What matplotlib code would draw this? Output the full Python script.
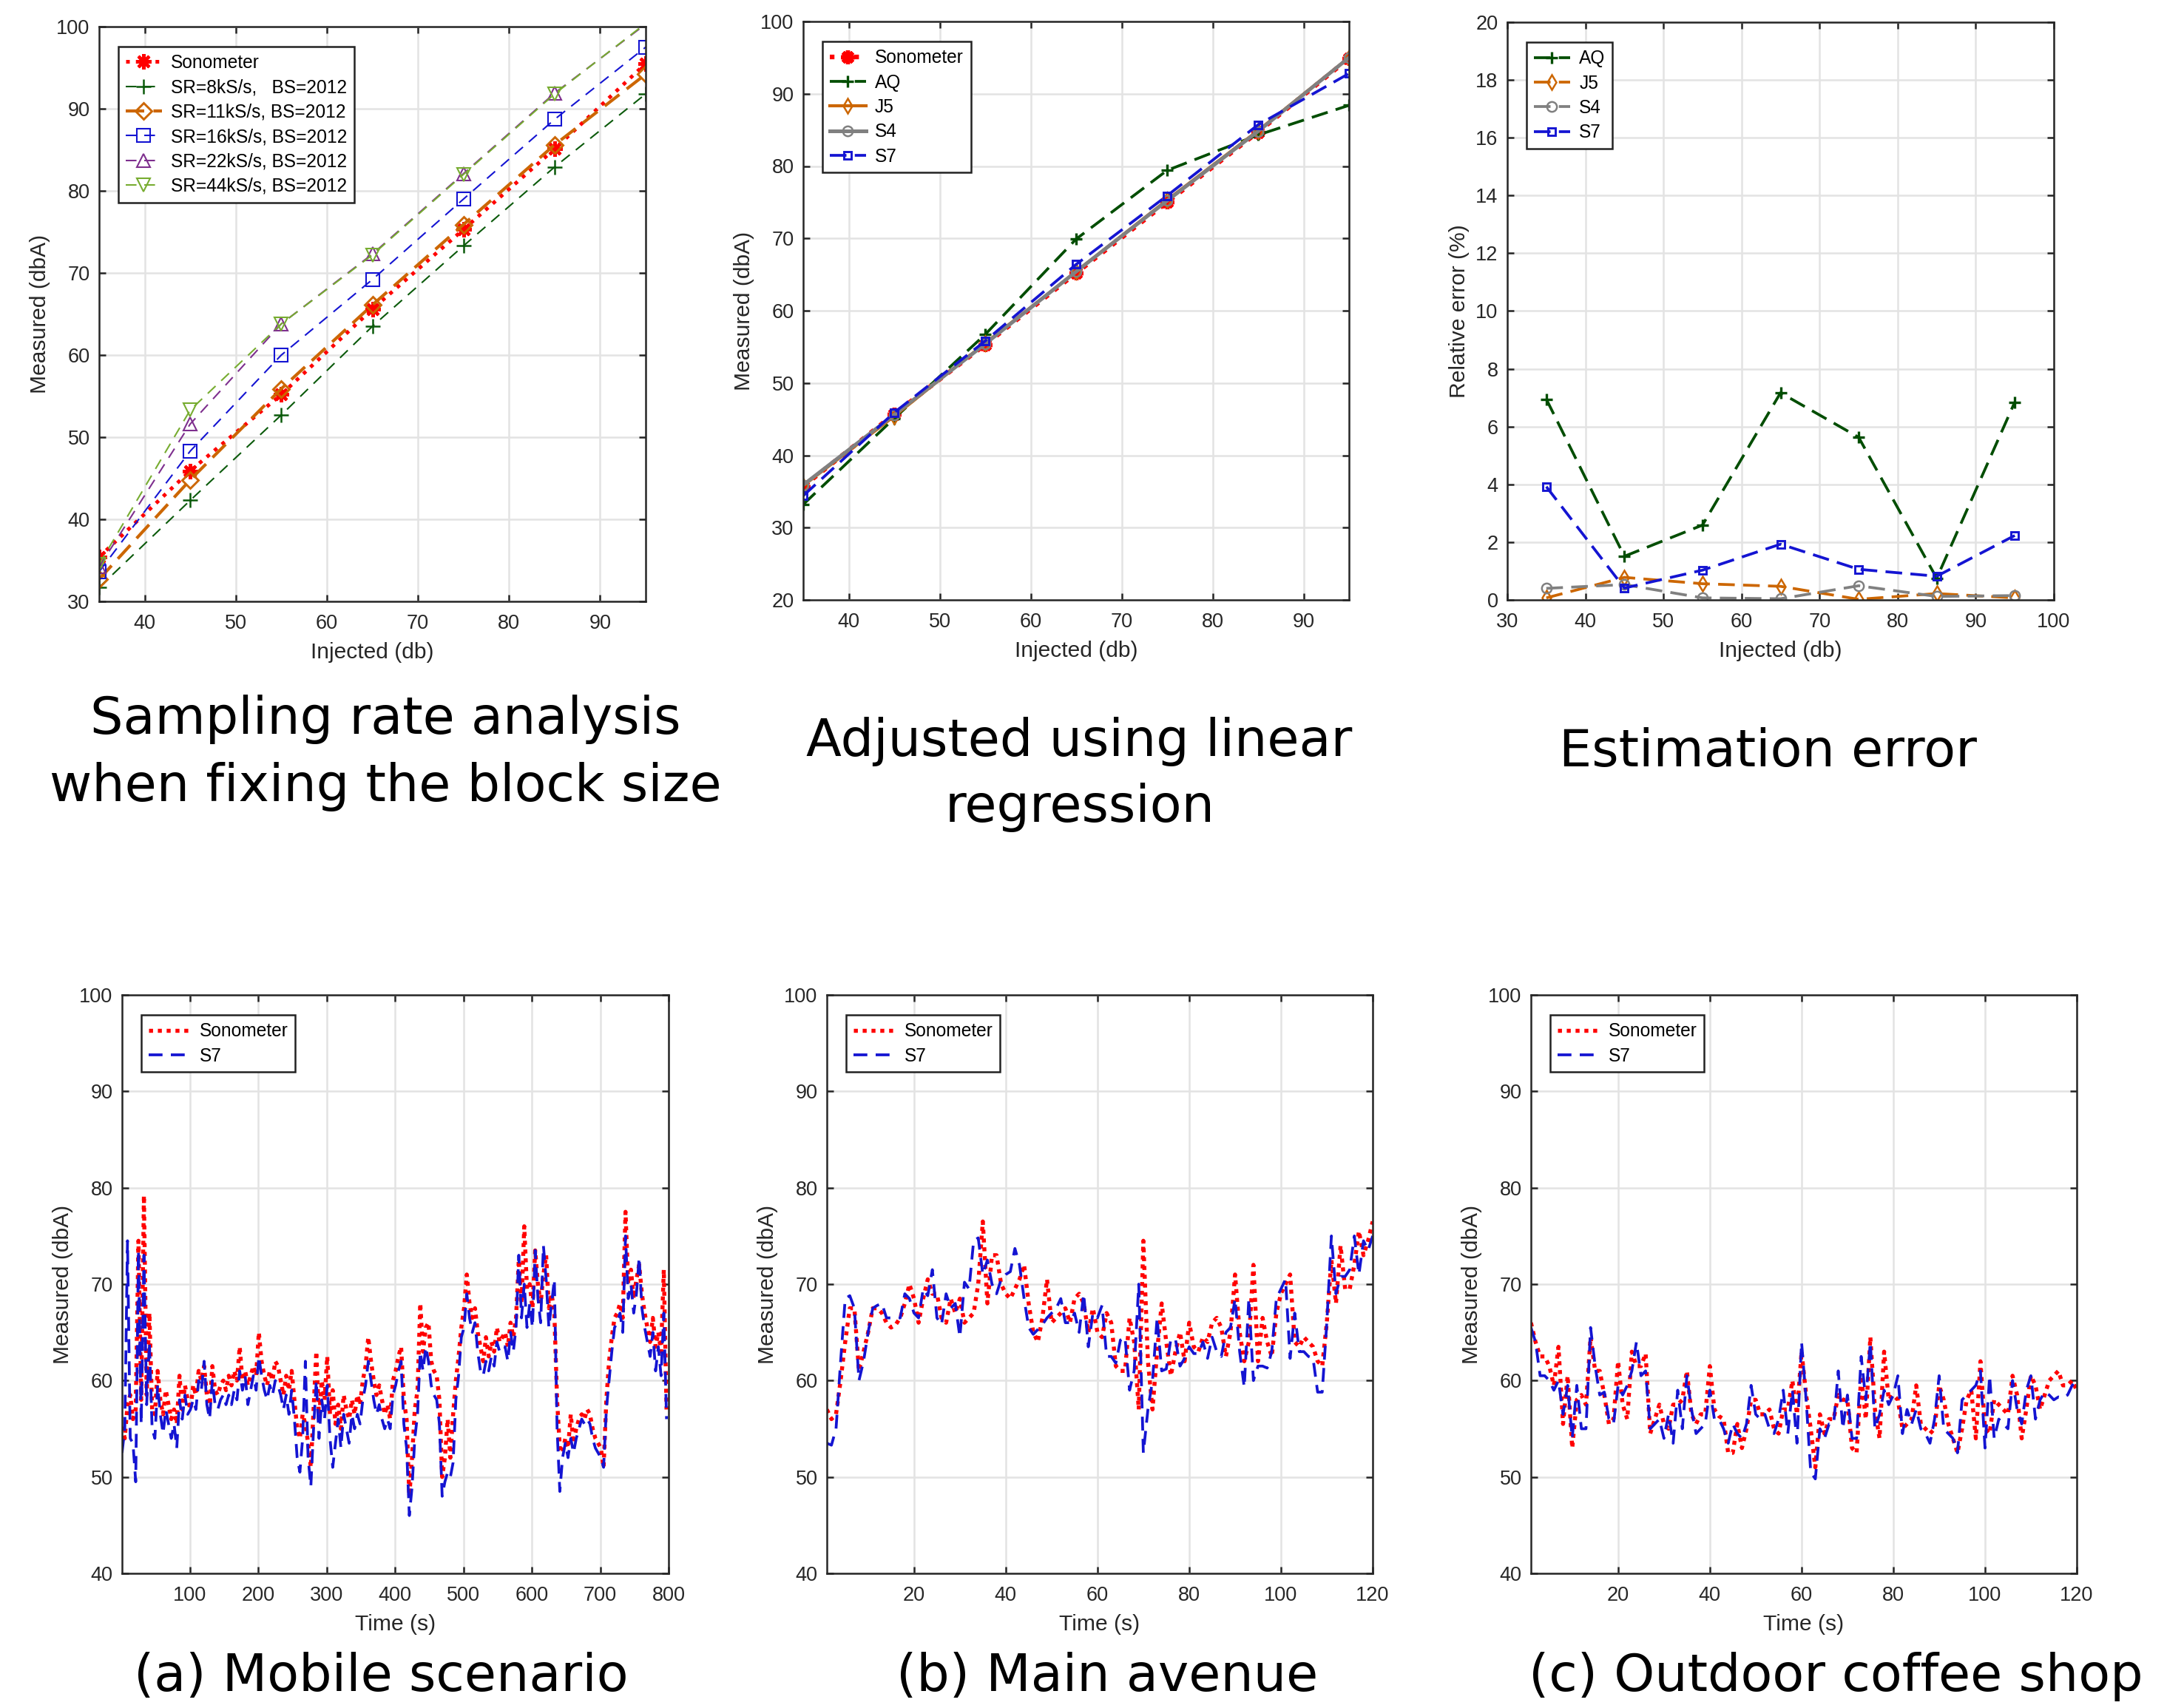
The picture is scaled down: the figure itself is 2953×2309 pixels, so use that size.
import numpy as np
import matplotlib
matplotlib.use("Agg")
import matplotlib.pyplot as plt

plt.rcParams["font.family"] = ["Liberation Sans", "DejaVu Sans"]

W, H = 2953, 2309

# ---- data -------------------------------------------------------------
injected = [35, 45, 55, 65, 75, 85, 95]

# sampling rate analysis (block size 2012)
sr_sonometer = [35.4, 45.9, 55.2, 65.6, 75.3, 85.1, 95.5]
sr_8k = [31.7, 42.3, 52.7, 63.5, 73.3, 82.9, 91.8]
sr_11k = [32.7, 44.8, 55.9, 66.1, 75.9, 85.6, 94.2]
sr_16k = [33.6, 48.3, 60.0, 69.2, 79.0, 88.7, 97.5]
sr_22k = [34.2, 51.6, 63.8, 72.3, 82.1, 91.9, 100.3]
sr_44k = [34.5, 53.3, 63.8, 72.2, 82.0, 91.8, 100.4]

# adjusted with linear regression
adj_sonometer = [35.7, 45.7, 55.3, 65.2, 75.0, 84.7, 94.9]
adj_aq = [33.2, 45.1, 56.7, 69.9, 79.4, 84.3, 88.4]
adj_j5 = [35.8, 45.4, 55.5, 65.4, 75.3, 84.9, 95.0]
adj_s4 = [35.9, 45.6, 55.4, 65.4, 75.2, 84.8, 95.0]
adj_s7 = [34.4, 45.9, 55.8, 66.4, 75.9, 85.7, 92.8]

# relative error (%)
err_aq = [6.95, 1.51, 2.59, 7.17, 5.63, 0.75, 6.85]
err_j5 = [0.07, 0.78, 0.56, 0.47, 0.02, 0.22, 0.07]
err_s4 = [0.40, 0.53, 0.07, 0.04, 0.49, 0.12, 0.15]
err_s7 = [3.92, 0.41, 1.03, 1.93, 1.06, 0.82, 2.23]

# (a) mobile scenario, one sample every 4 s
mobile_t = np.arange(1, 800, 4)
mobile_sono = [
    55.2, 54.0, 57.5, 58.5, 56.0, 57.0, 74.5, 58.0, 79.2, 58.5,
    67.0, 57.0, 56.5, 61.0, 58.0, 56.5, 59.0, 57.5, 56.0, 57.0,
    55.5, 60.5, 57.0, 59.5, 58.0, 57.0, 59.5, 58.5, 61.0, 60.0,
    61.5, 58.5, 57.0, 61.5, 59.0, 58.5, 59.5, 60.0, 59.0, 60.5,
    59.5, 61.0, 60.0, 63.5, 60.0, 61.0, 59.5, 60.5, 61.5, 60.5,
    65.0, 62.0, 60.5, 59.5, 61.0, 60.0, 62.0, 61.5, 60.0, 58.5,
    60.5, 59.0, 61.0, 58.0, 55.0, 54.0, 56.5, 55.5, 53.5, 51.0,
    57.0, 63.0, 56.0, 60.0, 58.0, 62.5, 56.5, 59.0, 55.5, 57.5,
    55.0, 58.5, 57.0, 56.0, 58.0, 56.5, 58.5, 57.5, 60.0, 61.5,
    64.5, 62.0, 60.0, 58.5, 59.5, 58.0, 56.5, 57.5, 56.0, 60.0,
    61.0, 62.5, 63.5, 58.0, 56.0, 48.0, 52.0, 57.0, 59.0, 68.0,
    63.0, 65.5, 66.0, 62.0, 61.0, 60.5, 58.0, 50.0, 52.0, 56.0,
    52.0, 56.5, 60.0, 62.5, 65.5, 67.5, 71.0, 68.0, 66.5, 67.5,
    65.0, 63.5, 62.0, 64.5, 62.5, 64.0, 63.0, 65.5, 64.0, 64.5,
    65.0, 63.5, 66.0, 64.5, 66.5, 72.5, 68.0, 76.0, 69.5, 70.0,
    67.5, 73.5, 70.0, 68.0, 71.0, 73.0, 67.5, 69.0, 67.0, 58.0,
    53.0, 52.5, 54.0, 53.0, 56.5, 53.5, 55.0, 56.0, 56.5, 56.0,
    57.0, 56.5, 55.0, 54.0, 53.5, 53.0, 51.0, 58.0, 62.0, 64.5,
    66.5, 67.0, 68.0, 66.5, 77.5, 70.0, 71.5, 68.5, 70.5, 72.0,
    69.0, 67.0, 65.5, 64.0, 66.5, 63.5, 65.0, 63.0, 71.5, 57.0,
]
mobile_s7 = [
    52.5, 55.0, 74.5, 54.0, 53.5, 49.5, 73.5, 55.5, 73.0, 57.5,
    64.0, 55.0, 54.0, 59.5, 56.5, 54.5, 57.0, 55.5, 54.0, 55.5,
    53.0, 58.0, 56.0, 58.5, 56.5, 57.0, 58.0, 57.0, 60.0, 59.0,
    62.0, 57.5, 56.0, 60.0, 57.5, 57.0, 58.0, 58.5, 57.5, 58.5,
    57.5, 59.0, 58.0, 61.0, 59.0, 60.5, 57.5, 59.0, 60.5, 59.0,
    62.5, 60.5, 59.0, 58.0, 59.5, 58.5, 60.0, 59.5, 58.5, 57.0,
    58.5, 56.5, 59.0, 56.0, 52.0, 50.5, 54.0, 62.0, 52.0, 49.0,
    55.0, 60.0, 54.0, 58.0, 56.0, 59.5, 54.0, 51.0, 53.5, 56.0,
    53.0, 56.5, 55.0, 53.5, 56.5, 55.0, 56.5, 55.5, 58.0, 59.5,
    62.0, 60.0, 58.0, 56.5, 57.5, 56.0, 55.0, 56.0, 55.0, 58.5,
    59.5, 61.0, 62.0, 55.5, 53.0, 46.0, 49.0, 54.0, 56.5, 63.0,
    61.0, 63.5, 62.0, 59.5, 58.5, 58.0, 55.5, 48.0, 49.5, 50.5,
    50.0, 51.5, 58.0, 60.5, 64.5, 65.5, 69.0, 66.5, 65.0, 66.0,
    63.0, 61.0, 60.5, 62.0, 61.0, 62.5, 61.5, 64.0, 63.0, 63.5,
    63.5, 62.0, 65.0, 63.0, 65.5, 73.0, 66.5, 70.0, 65.5, 68.0,
    65.5, 73.5, 68.5, 66.0, 74.0, 70.5, 65.5, 68.0, 70.5, 55.0,
    48.5, 52.0, 53.5, 52.0, 54.0, 52.5, 54.0, 55.0, 56.0, 55.5,
    56.0, 55.5, 54.0, 53.0, 52.5, 52.0, 51.0, 57.0, 60.0, 63.0,
    65.5, 66.0, 67.0, 65.0, 75.0, 68.5, 70.0, 67.0, 69.0, 72.8,
    67.5, 65.5, 64.0, 62.5, 65.0, 61.0, 63.5, 60.5, 67.0, 56.0,
]

# (b) main avenue, one sample per second
avenue_t = np.arange(1, 121)
avenue_sono = [
    57, 56, 56.5, 60, 64, 67.5, 67.5, 61, 63, 65,
    67.5, 67.5, 67, 66, 65.5, 65.8, 66.5, 68, 70, 68.5,
    66, 68.5, 70.5, 69, 69, 66.5, 66, 68.5, 67, 68.5,
    66, 66.5, 67, 70, 76.5, 68, 73, 73, 70, 69,
    68.5, 69.5, 70.5, 72, 68, 65, 64, 66.5, 70.5, 66,
    66.5, 67, 67.5, 66, 68.5, 69, 68, 65, 67.5, 65,
    64.5, 67, 66, 61.5, 61, 61, 66.5, 64, 57, 74.5,
    62, 57, 63, 68, 64, 60.5, 63, 65, 62, 66,
    63.5, 63, 64.5, 64, 66, 66.5, 65.5, 62.5, 65, 71,
    65, 62, 64, 72, 62, 66.5, 64, 62.5, 67, 69,
    70, 71, 64, 63.5, 64.5, 64, 63.5, 62, 61.5, 66,
    72.5, 68, 74, 69.5, 69.5, 72, 75.5, 73, 74.5, 76.5,
]
avenue_s7 = [
    53.5, 53.3, 55, 62, 68.5, 68.8, 67.5, 60, 62, 65,
    67.5, 67.8, 68, 66.5, 66.5, 66.5, 66.5, 69, 68.5, 67,
    66.5, 69.5, 68.8, 71.5, 66.5, 65.8, 69, 67.5, 68, 64.5,
    70.2, 69.5, 74.5, 74.8, 71, 72.5, 70, 69, 70.5, 71,
    71.3, 73.7, 72, 68.5, 65.5, 64.8, 65.3, 65.8, 66.5, 67,
    67.5, 68.5, 66, 66, 67, 65, 69, 63.5, 67, 66.5,
    67.8, 62.5, 62.5, 61.8, 64.2, 64.5, 59, 61, 70, 52.5,
    57, 60, 66.5, 61, 61.2, 64.3, 64.3, 61.5, 62.3, 63.5,
    62.8, 62.8, 64, 62.3, 64.5, 63, 62.5, 65, 65.5, 68.5,
    63, 59.3, 68.5, 60, 61.5, 61.5, 61.3, 63, 68.5, 69.5,
    70.5, 62.3, 67, 63, 63, 62.5, 62.3, 58.8, 58.8, 66,
    75, 69, 70.8, 70.8, 71.5, 75, 71, 74.5, 73.5, 75,
]

# (c) outdoor coffee shop, one sample per second
coffee_t = np.arange(1, 121)
coffee_sono = [
    66, 64, 62.5, 62.5, 61.5, 59.5, 63.5, 55.5, 60.5, 53,
    58, 58.5, 57.5, 64.5, 61, 61, 58.5, 55.5, 56, 62,
    57.5, 56, 63, 61.5, 61.5, 62.8, 54.5, 56, 57.5, 55.5,
    55, 57.5, 57.5, 58, 61, 56.5, 55.5, 56.5, 56.5, 61.5,
    57, 56.3, 56, 52.5, 52.5, 55.5, 53, 55, 58, 58,
    56.5, 56.5, 57, 55, 54.5, 57, 57, 60, 56.5, 63,
    58.5, 55, 51, 56.5, 54.5, 56, 56, 58.5, 58, 58,
    53, 52.5, 60.5, 56, 64.5, 57, 54, 63, 58, 58.5,
    58, 55, 55.5, 56, 59.5, 55.5, 55, 54.5, 55, 59.5,
    58, 55.5, 54, 52.5, 55, 58, 59, 54, 62, 55,
    54.5, 58, 57.5, 57, 56.5, 60.5, 58.5, 54, 57, 60.5,
    59.5, 57, 58.5, 60, 60.5, 61, 59.5, 59.5, 60, 59,
]
coffee_s7 = [
    65.5, 64, 60.5, 60.5, 60, 59, 60, 56.5, 59.5, 54,
    59.5, 55, 55, 65.5, 61.5, 58.5, 58.8, 56, 55.5, 59.5,
    58.5, 59.5, 61, 64, 60.5, 61, 55, 55.5, 56, 54,
    56.5, 53.5, 59, 55, 60.5, 57, 54.5, 55, 55.5, 59,
    56, 56, 55, 53.5, 55.5, 54.5, 54, 55.5, 59.5, 56.5,
    56, 56.5, 55, 54.5, 56, 59, 54.5, 59, 53.5, 64,
    58, 50.5, 49.8, 55, 54, 55.5, 55.5, 61, 55, 58.5,
    54, 54, 62.5, 58, 64, 55, 56.5, 59, 57.5, 58.5,
    60.5, 54.5, 57, 55.5, 57, 55, 54.5, 53.5, 56, 60.5,
    55, 54.5, 54, 52.5, 58, 58.5, 59, 59.5, 61, 53,
    60.5, 54, 56, 55.5, 55, 60, 57, 55.5, 59, 60.5,
    56, 58, 58.8, 58.5, 58, 58.3, 58.2, 58.5, 59.5, 60,
]

# ---- styling ------------------------------------------------------------
RED = "#FF0000"
DGREEN = "#0B5A0B"
ORANGE = "#CC6600"
BLUE = "#1414D2"
PURPLE = "#7E2F8E"
LGREEN = "#77AC30"
GRAY = "#808080"
AXC = "#262626"
ASTER = (8, 2, 0)


def add_axes(fig, x0, y0, x1, y1):
    # pixel box -> figure fraction
    ax = fig.add_axes([x0 / W, 1 - y1 / H, (x1 - x0) / W, (y1 - y0) / H])
    for s in ax.spines.values():
        s.set_color(AXC)
        s.set_linewidth(0.6)
    ax.grid(True, color="#E3E3E3", linewidth=0.6)
    ax.set_axisbelow(True)
    ax.tick_params(direction="in", length=2.2, width=0.6, color=AXC,
                   labelcolor=AXC, labelsize=6.5, top=True, right=True)
    ax.tick_params(axis="x", pad=4)
    ax.tick_params(axis="y", pad=3)
    return ax


def label(ax, xl, yl):
    ax.set_xlabel(xl, fontsize=7.2, color=AXC, labelpad=3)
    ax.set_ylabel(yl, fontsize=7.2, color=AXC, labelpad=2)


def legend(ax, x, y, hl=2.0):
    leg = ax.legend(loc="upper left", bbox_to_anchor=(x, y), fontsize=5.9,
                    handlelength=hl, handletextpad=0.5, labelspacing=0.38,
                    borderpad=0.4, borderaxespad=0, fancybox=False,
                    framealpha=1, edgecolor="#222222")
    leg.get_frame().set_linewidth(0.6)


def inside(vals, top):
    return [i for i, v in enumerate(vals) if v <= top]


fig = plt.figure(figsize=(W / 300, H / 300), dpi=300)

# ---- panel 1: sampling rate ----------------------------------------------
ax = add_axes(fig, 134, 36, 873, 813)
ax.plot(injected, sr_sonometer, ls=":", color=RED, lw=1.2, marker=ASTER,
        ms=5, mew=1.0, label="Sonometer")
ax.plot(injected, sr_8k, ls=(0, (7, 5)), color=DGREEN, lw=0.5, marker="+",
        ms=5, mew=0.6, label="SR=8kS/s,   BS=2012")
ax.plot(injected, sr_11k, ls=(0, (6, 3)), color=ORANGE, lw=1.0, marker="D",
        ms=3.6, mfc="none", mew=0.7, label="SR=11kS/s, BS=2012")
ax.plot(injected, sr_16k, ls=(0, (7, 5)), color=BLUE, lw=0.5, marker="s",
        ms=4.2, mfc="none", mew=0.5, label="SR=16kS/s, BS=2012")
ax.plot(injected, sr_22k, ls=(0, (7, 5)), color=PURPLE, lw=0.5, marker="^",
        ms=4.5, mfc="none", mew=0.5, markevery=inside(sr_22k, 100),
        label="SR=22kS/s, BS=2012")
ax.plot(injected, sr_44k, ls=(0, (7, 5)), color=LGREEN, lw=0.5, marker="v",
        ms=4.5, mfc="none", mew=0.5, markevery=inside(sr_44k, 100),
        label="SR=44kS/s, BS=2012")
ax.set_xlim(35, 95)
ax.set_ylim(30, 100)
ax.set_xticks(range(40, 91, 10))
ax.set_yticks(range(30, 101, 10))
label(ax, "Injected (db)", "Measured (dbA)")
legend(ax, 0.035, 0.965)

# ---- panel 2: adjusted ---------------------------------------------------
ax = add_axes(fig, 1086, 29, 1824, 811)
ax.plot(injected, adj_sonometer, ls=":", color=RED, lw=1.5, marker=ASTER,
        ms=4.5, mew=1.3, label="Sonometer")
ax.plot(injected, adj_aq, ls=(0, (6, 3)), color="#004D00", lw=0.9,
        marker="+", ms=4, mew=0.8, label="AQ")
ax.plot(injected, adj_j5, ls="-", color=ORANGE, lw=1.0, marker="d",
        ms=3.5, mfc="none", mew=0.6, label="J5")
ax.plot(injected, adj_s4, ls="-", color=GRAY, lw=1.2, marker="o",
        ms=3.2, mfc="none", mew=0.6, label="S4")
ax.plot(injected, adj_s7, ls=(0, (6, 3)), color=BLUE, lw=0.9, marker="s",
        ms=2.6, mfc="none", mew=0.7, label="S7")
ax.set_xlim(35, 95)
ax.set_ylim(20, 100)
ax.set_xticks(range(40, 91, 10))
ax.set_yticks(range(20, 101, 10))
label(ax, "Injected (db)", "Measured (dbA)")
legend(ax, 0.035, 0.965)

# ---- panel 3: estimation error ------------------------------------------
ax = add_axes(fig, 2038, 30, 2777, 811)
ax.plot(injected, err_aq, ls=(0, (6, 3)), color="#004D00", lw=0.9,
        marker="+", ms=4, mew=0.8, label="AQ")
ax.plot(injected, err_j5, ls=(0, (6, 3)), color=ORANGE, lw=0.9, marker="d",
        ms=3.5, mfc="none", mew=0.6, label="J5")
ax.plot(injected, err_s4, ls=(0, (6, 3)), color=GRAY, lw=0.9, marker="o",
        ms=3.2, mfc="none", mew=0.6, label="S4")
ax.plot(injected, err_s7, ls=(0, (6, 3)), color=BLUE, lw=0.9, marker="s",
        ms=2.6, mfc="none", mew=0.7, label="S7")
ax.set_xlim(30, 100)
ax.set_ylim(0, 20)
ax.set_xticks(range(30, 101, 10))
ax.set_yticks(range(0, 21, 2))
label(ax, "Injected (db)", "Relative error (%)")
legend(ax, 0.035, 0.965)

# ---- bottom panels: time series -----------------------------------------
series = [
    (165, 904, mobile_t, mobile_sono, mobile_s7, 800, range(100, 801, 100)),
    (1118, 1856, avenue_t, avenue_sono, avenue_s7, 120, range(20, 121, 20)),
    (2070, 2808, coffee_t, coffee_sono, coffee_s7, 120, range(20, 121, 20)),
]
for x0, x1, t, sono, s7, tmax, xt in series:
    ax = add_axes(fig, x0, 1345, x1, 2127)
    ax.plot(t, sono, ls=(0, (1, 1.2)), color=RED, lw=1.3, label="Sonometer")
    ax.plot(t, s7, ls=(0, (5, 3)), color=BLUE, lw=0.9, label="S7")
    ax.set_xlim(1, tmax)
    ax.set_ylim(40, 100)
    ax.set_xticks(list(xt))
    ax.set_yticks(range(40, 101, 10))
    label(ax, "Time (s)", "Measured (dbA)")
    legend(ax, 0.035, 0.965, hl=2.3)

# ---- captions ------------------------------------------------------------
captions = [
    (521, 992, "Sampling rate analysis"),
    (521, 1083, "when fixing the block size"),
    (1459, 1022, "Adjusted using linear"),
    (1460, 1111, "regression"),
    (2390, 1036, "Estimation error"),
    (515, 2286, "(a) Mobile scenario"),
    (1497, 2286, "(b) Main avenue"),
    (2482, 2286, "(c) Outdoor coffee shop"),
]
for cx, cy, txt in captions:
    fig.text(cx / W, 1 - cy / H, txt, ha="center", va="baseline",
             fontsize=16.8, family="DejaVu Sans", color="black")

fig.savefig("out.png", dpi=300)
